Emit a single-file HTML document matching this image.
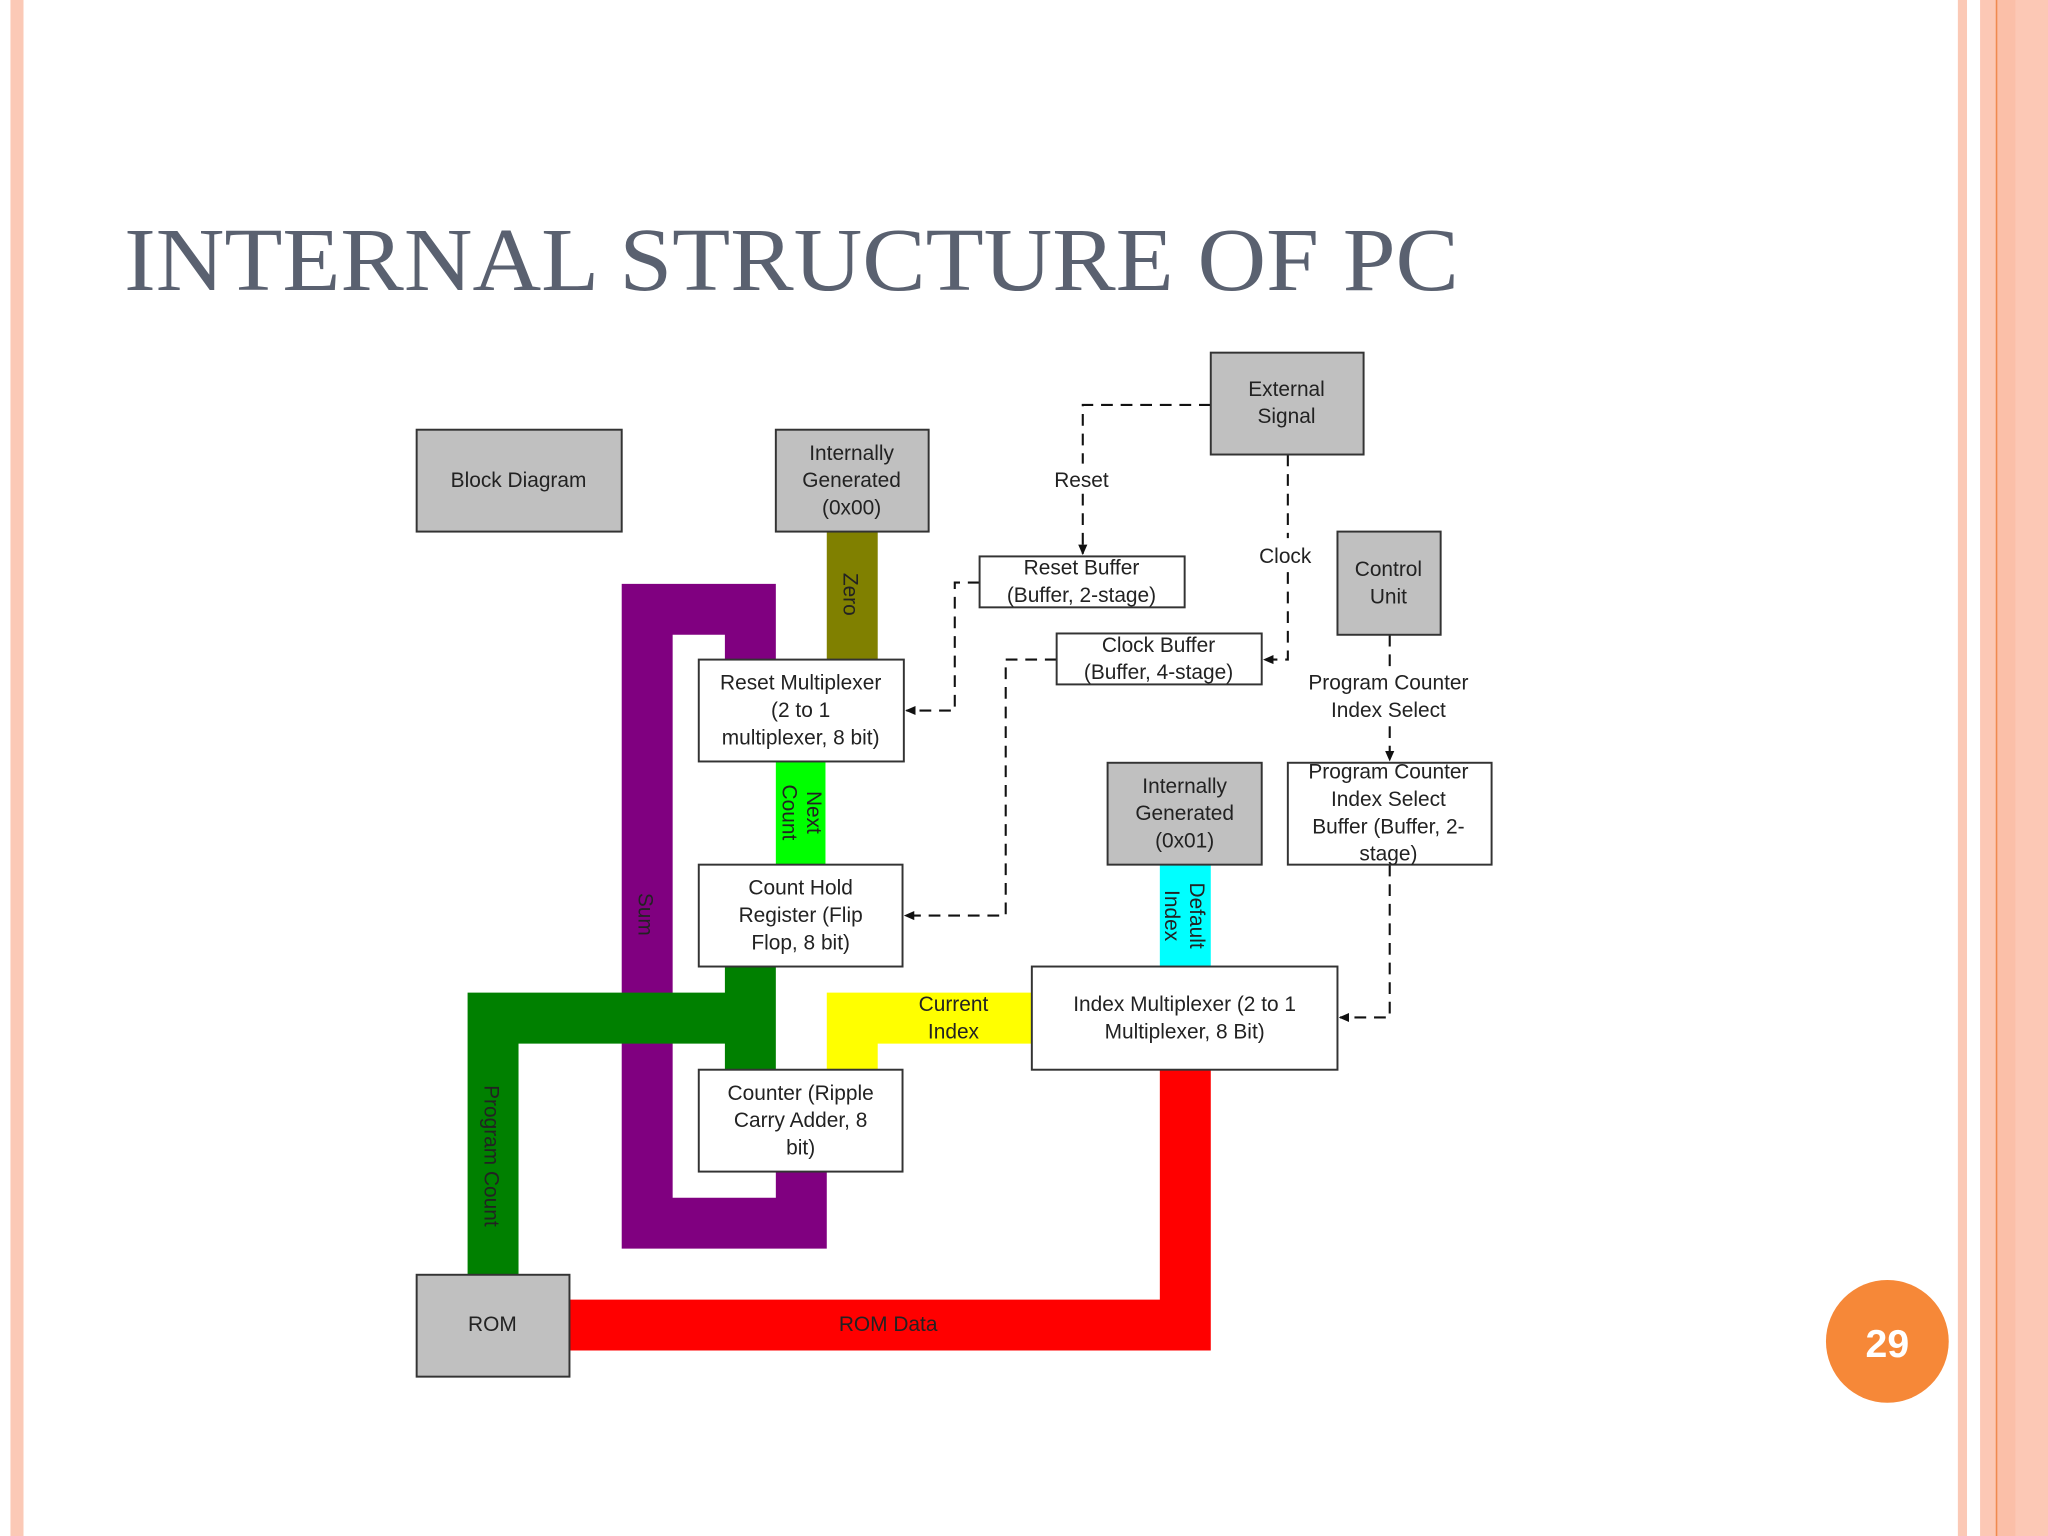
<!DOCTYPE html>
<html><head><meta charset="utf-8"><style>
html,body{margin:0;padding:0;background:#fff;}
svg{display:block;}
</style></head><body>
<svg width="2048" height="1536" viewBox="0 0 1568 1176" xmlns="http://www.w3.org/2000/svg">
<defs>
<marker id="ar" markerWidth="8" markerHeight="8" refX="7" refY="4" orient="auto" markerUnits="userSpaceOnUse">
<path d="M0,0.5 L8,4 L0,7.5 z" fill="#111"/></marker>
</defs>
<rect width="1568" height="1176" fill="#fff"/>
<rect x="8" y="0" width="10" height="1176" fill="#fbc9b6"/>
<rect x="1499" y="0" width="7" height="1176" fill="#fbc9b6"/>
<rect x="1516" y="0" width="52" height="1176" fill="#fcc8b5"/>
<rect x="1528" y="0" width="15" height="1176" fill="#fbbfa8"/>
<rect x="1528" y="0" width="1.2" height="1176" fill="#f08a50"/>
<text x="95" y="222" font-family="Liberation Serif, serif" font-size="69" fill="#5a6170" textLength="1022" lengthAdjust="spacingAndGlyphs">INTERNAL STRUCTURE OF PC</text>

<g font-family="Liberation Sans, sans-serif" font-size="16" fill="#222" text-anchor="middle">
<path d="M476,447 H594 V505 H555 V486 H515 V917 H594 V897 H633 V956 H476 Z" fill="#800080"/>
<path d="M358,760 H555 V740 H594 V819 H555 V799 H397 V976 H358 Z" fill="#008000"/>
<path d="M436,995 H888 V819 H927 V1034 H436 Z" fill="#ff0000"/>
<rect x="633" y="407" width="39" height="98" fill="#808000"/>
<rect x="594" y="583" width="38" height="79" fill="#00ff00"/>
<rect x="888" y="662" width="39" height="78" fill="#00ffff"/>
<path d="M633,760 H790 V799 H672 V819 H633 Z" fill="#ffff00"/>

<g stroke="#111" stroke-width="1.6" fill="none" stroke-dasharray="9,6">
<path d="M927,310 H829 V355"/>
<path d="M829,378 V424" marker-end="url(#ar)"/>
<path d="M986,348 V412"/>
<path d="M986,438 V505 H968" marker-end="url(#ar)"/>
<path d="M750,446 H731 V544 H694" marker-end="url(#ar)"/>
<path d="M809,505 H770 V701 H693" marker-end="url(#ar)"/>
<path d="M1064,486 V510"/>
<path d="M1064,556 V582" marker-end="url(#ar)"/>
<path d="M1064,662 V779 H1026" marker-end="url(#ar)"/>
</g>

<g stroke="#333" stroke-width="1.5">
<rect x="319" y="329" width="157" height="78" fill="#c0c0c0"/>
<rect x="594" y="329" width="117" height="78" fill="#c0c0c0"/>
<rect x="927" y="270" width="117" height="78" fill="#c0c0c0"/>
<rect x="1024" y="407" width="79" height="79" fill="#c0c0c0"/>
<rect x="750" y="426" width="157" height="39" fill="#fff"/>
<rect x="809" y="485" width="157" height="39" fill="#fff"/>
<rect x="535" y="505" width="157" height="78" fill="#fff"/>
<rect x="535" y="662" width="156" height="78" fill="#fff"/>
<rect x="848" y="584" width="118" height="78" fill="#c0c0c0"/>
<rect x="986" y="584" width="156" height="78" fill="#fff"/>
<rect x="790" y="740" width="234" height="79" fill="#fff"/>
<rect x="535" y="819" width="156" height="78" fill="#fff"/>
<rect x="319" y="976" width="117" height="78" fill="#c0c0c0"/>
</g>

<text x="397" y="373">Block Diagram</text>
<text x="652" y="352">Internally</text><text x="652" y="373">Generated</text><text x="652" y="394">(0x00)</text>
<text x="985" y="303">External</text><text x="985" y="324">Signal</text>
<text x="1063" y="441">Control</text><text x="1063" y="462">Unit</text>
<text x="828" y="440">Reset Buffer</text><text x="828" y="461">(Buffer, 2-stage)</text>
<text x="887" y="499">Clock Buffer</text><text x="887" y="520">(Buffer, 4-stage)</text>
<text x="613" y="528">Reset Multiplexer</text><text x="613" y="549">(2 to 1</text><text x="613" y="570">multiplexer, 8 bit)</text>
<text x="613" y="685">Count Hold</text><text x="613" y="706">Register (Flip</text><text x="613" y="727">Flop, 8 bit)</text>
<text x="907" y="607">Internally</text><text x="907" y="628">Generated</text><text x="907" y="649">(0x01)</text>
<text x="1063" y="596">Program Counter</text><text x="1063" y="617">Index Select</text><text x="1063" y="638">Buffer (Buffer, 2-</text><text x="1063" y="659">stage)</text>
<text x="907" y="774">Index Multiplexer (2 to 1</text><text x="907" y="795">Multiplexer, 8 Bit)</text>
<text x="613" y="842">Counter (Ripple</text><text x="613" y="863">Carry Adder, 8</text><text x="613" y="884">bit)</text>
<text x="377" y="1019">ROM</text>

<text x="828" y="373">Reset</text>
<text x="984" y="431">Clock</text>
<text x="1063" y="528">Program Counter</text><text x="1063" y="549">Index Select</text>
<text x="730" y="774">Current</text><text x="730" y="795">Index</text>
<text x="680" y="1019">ROM Data</text>
<text transform="translate(652,455) rotate(90)" y="6">Zero</text>
<text transform="translate(622,622) rotate(90)" y="4">Next</text>
<text transform="translate(622,622) rotate(90)" y="23">Count</text>
<text transform="translate(907,701) rotate(90)" y="-4">Default</text>
<text transform="translate(907,701) rotate(90)" y="15">Index</text>
<text transform="translate(495,700) rotate(90)" y="6">Sum</text>
<text transform="translate(377,885) rotate(90)" y="6">Program Count</text>
</g>

<circle cx="1445" cy="1027" r="47" fill="#f68838"/>
<text x="1445" y="1039" font-family="Liberation Sans, sans-serif" font-size="30" font-weight="bold" fill="#fff" text-anchor="middle">29</text>
</svg>
</body></html>
